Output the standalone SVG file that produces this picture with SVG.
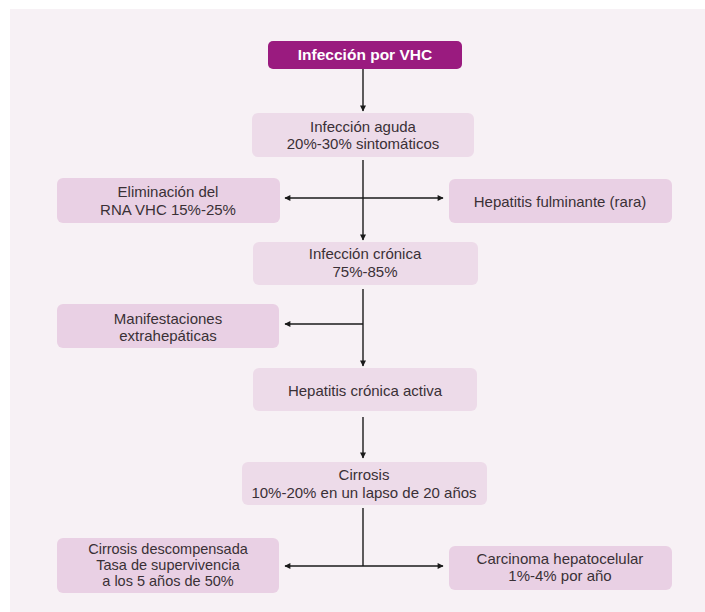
<svg xmlns="http://www.w3.org/2000/svg" width="705" height="612" viewBox="0 0 705 612">
  <defs>
    <style>
      .box { fill: #eddbe9; }
      .box2 { fill: #e9d0e4; }
      .lt { font-family: "Liberation Sans", Arial, sans-serif; font-size: 15px; fill: #3a3036; text-anchor: middle; }
      .sm { font-size: 14.5px; }
      .hd { font-family: "Liberation Sans", Arial, sans-serif; font-size: 15.5px; font-weight: bold; fill: #ffffff; text-anchor: middle; }
      .ln { stroke: #1a1a1a; stroke-width: 1.4; fill: none; }
    </style>
    <marker id="ah" viewBox="0 0 10 10" refX="9" refY="5" markerWidth="7" markerHeight="6" markerUnits="userSpaceOnUse" orient="auto-start-reverse">
      <path d="M0,0 L10,5 L0,10 z" fill="#1a1a1a"/>
    </marker>
  </defs>

  <rect x="0" y="0" width="705" height="612" fill="#ffffff"/>
  <rect x="10" y="9" width="695" height="603" fill="#f7f1f5"/>

  <g id="connectors">
    <line class="ln" x1="363" y1="69" x2="363" y2="111" marker-end="url(#ah)"/>
    <line class="ln" x1="363" y1="160" x2="363" y2="240" marker-end="url(#ah)"/>
    <line class="ln" x1="285" y1="198" x2="443" y2="198" marker-start="url(#ah)" marker-end="url(#ah)"/>
    <line class="ln" x1="363" y1="289" x2="363" y2="366" marker-end="url(#ah)"/>
    <line class="ln" x1="363" y1="324" x2="285" y2="324" marker-end="url(#ah)"/>
    <line class="ln" x1="363" y1="417" x2="363" y2="458" marker-end="url(#ah)"/>
    <line class="ln" x1="363" y1="508" x2="363" y2="566"/>
    <line class="ln" x1="285" y1="566" x2="443" y2="566" marker-start="url(#ah)" marker-end="url(#ah)"/>
  </g>

  <g id="n-vhc">
    <rect x="268" y="41" width="194" height="28" rx="5" fill="#9a1b7f"/>
    <text class="hd" x="365" y="60">Infección por VHC</text>
  </g>

  <g id="n-aguda">
    <rect class="box" x="252" y="113" width="222" height="44" rx="6"/>
    <text class="lt" x="363" y="132">Infección aguda</text>
    <text class="lt" x="363" y="149">20%-30% sintomáticos</text>
  </g>

  <g id="n-eliminacion">
    <rect class="box2" x="57" y="178" width="223" height="45" rx="6"/>
    <text class="lt" x="168" y="197">Eliminación del</text>
    <text class="lt" x="168" y="215">RNA VHC 15%-25%</text>
  </g>

  <g id="n-fulminante">
    <rect class="box2" x="449" y="179" width="223" height="44" rx="6"/>
    <text class="lt" x="560" y="207">Hepatitis fulminante (rara)</text>
  </g>

  <g id="n-cronica">
    <rect class="box" x="253" y="242" width="225" height="43" rx="6"/>
    <text class="lt" x="365" y="259">Infección crónica</text>
    <text class="lt" x="365" y="277">75%-85%</text>
  </g>

  <g id="n-manifestaciones">
    <rect class="box2" x="57" y="304" width="222" height="44" rx="6"/>
    <text class="lt" x="168" y="324">Manifestaciones</text>
    <text class="lt" x="168" y="341">extrahepáticas</text>
  </g>

  <g id="n-activa">
    <rect class="box" x="253" y="368" width="224" height="43" rx="6"/>
    <text class="lt" x="365" y="396">Hepatitis crónica activa</text>
  </g>

  <g id="n-cirrosis">
    <rect class="box" x="242" y="462" width="245" height="43" rx="6"/>
    <text class="lt" x="364" y="480">Cirrosis</text>
    <text class="lt" x="364" y="498">10%-20% en un lapso de 20 años</text>
  </g>

  <g id="n-descompensada">
    <rect class="box2" x="57" y="538" width="222" height="55" rx="6"/>
    <text class="lt sm" x="168" y="554">Cirrosis descompensada</text>
    <text class="lt sm" x="168" y="570">Tasa de supervivencia</text>
    <text class="lt sm" x="168" y="586">a los 5 años de 50%</text>
  </g>

  <g id="n-carcinoma">
    <rect class="box2" x="449" y="546" width="223" height="44" rx="6"/>
    <text class="lt" x="560" y="564">Carcinoma hepatocelular</text>
    <text class="lt" x="560" y="581">1%-4% por año</text>
  </g>
</svg>
